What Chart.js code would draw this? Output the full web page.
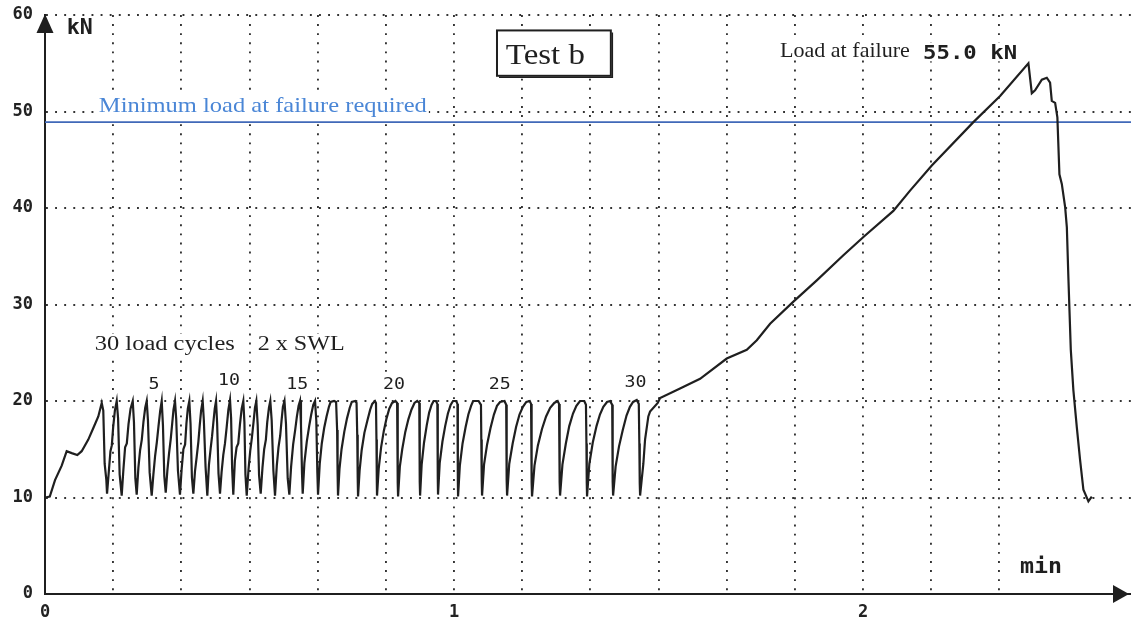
<!DOCTYPE html>
<html>
<head>
<meta charset="utf-8">
<title>Test b - load cycles and load at failure</title>
<script src="https://cdn.jsdelivr.net/npm/chart.js@4.4.1/dist/chart.umd.min.js"></script>
<style>
  html, body { margin: 0; padding: 0; background: #fff; overflow: hidden; }
  canvas { display: block; }
</style>
</head>
<body>
<canvas id="loadChart" width="1131" height="622"></canvas>
<script>
// ---- DATA: time in seconds, load in kN ----

// initial loading up to the first 2 x SWL peak
const rampIn = [
  [0, 10.0], [0.7, 10.1], [1.47, 11.8], [2.45, 13.3], [3.18, 14.8], [3.92, 14.6],
  [4.74, 14.4], [5.38, 14.8], [6.35, 16.0], [7.09, 17.2], [7.82, 18.4], [8.32, 19.8]
];

// 30 load cycles between ~10 kN and 20 kN (2 x SWL)
const loadCycles = [
  [8.55, 19.0], [8.75, 13.5], [9.0, 11.8], [9.10, 10.4],
  [9.35, 12.6], [9.6, 14.8], [9.8, 15.4], [10.0, 17.3], [10.25, 19.0], [10.52, 20.0],
  [10.72, 18.2], [10.95, 12.4], [11.25, 10.2],
  [11.5, 12.9], [11.75, 15.2], [12.0, 15.6], [12.25, 17.6], [12.55, 19.2], [12.87, 20.0],
  [13.05, 17.8], [13.25, 12.0], [13.45, 10.3],
  [13.7, 13.1], [13.95, 14.9], [14.2, 16.0], [14.45, 17.9], [14.7, 19.3], [14.92, 20.0],
  [15.1, 18.0], [15.35, 12.6], [15.65, 10.2],
  [15.9, 12.4], [16.15, 14.3], [16.4, 15.7], [16.65, 17.4], [16.9, 19.0], [17.12, 20.0],
  [17.3, 17.5], [17.5, 12.2], [17.71, 10.5],
  [17.95, 12.8], [18.2, 14.6], [18.45, 16.1], [18.65, 17.6], [18.85, 19.1], [19.07, 20.0],
  [19.25, 18.1], [19.5, 12.8], [19.8, 10.3],
  [20.05, 13.0], [20.3, 15.0], [20.55, 15.5], [20.75, 17.7], [20.95, 19.2], [21.17, 20.0],
  [21.35, 17.6], [21.55, 12.1], [21.76, 10.4],
  [22.0, 12.7], [22.25, 14.2], [22.5, 15.8], [22.7, 17.5], [22.9, 19.0], [23.13, 20.0],
  [23.3, 18.0], [23.55, 13.2], [23.81, 10.2],
  [24.05, 13.4], [24.3, 15.1], [24.5, 16.3], [24.7, 17.8], [24.9, 19.2], [25.09, 20.0],
  [25.25, 17.7], [25.45, 12.5], [25.67, 10.4],
  [25.9, 12.6], [26.15, 14.4], [26.4, 15.6], [26.65, 17.3], [26.9, 19.1], [27.14, 20.1],
  [27.3, 18.2], [27.45, 13.0], [27.62, 10.3],
  [27.85, 13.8], [28.1, 15.2], [28.35, 15.6], [28.6, 17.6], [28.85, 19.2], [29.09, 20.0],
  [29.25, 17.8], [29.4, 12.4], [29.59, 10.2],
  [29.85, 12.9], [30.1, 14.8], [30.35, 16.2], [30.6, 17.9], [30.8, 19.3], [31.0, 20.0],
  [31.2, 17.5], [31.4, 12.3], [31.64, 10.4],
  [31.9, 13.1], [32.15, 15.0], [32.4, 16.0], [32.6, 17.8], [32.85, 19.3], [33.05, 20.0],
  [33.25, 18.0], [33.5, 12.8], [33.74, 10.2],
  [34.0, 13.3], [34.25, 15.2], [34.5, 16.4], [34.7, 18.0], [34.9, 19.4], [35.13, 20.0],
  [35.35, 17.6], [35.6, 12.0], [35.84, 10.3],
  [36.1, 13.2], [36.4, 15.5], [36.7, 17.0], [36.95, 18.4], [37.2, 19.5], [37.41, 20.0],
  [37.55, 17.5], [37.7, 12.5], [37.8, 10.4],
  [38.05, 13.6], [38.4, 15.8], [38.75, 17.4], [39.05, 18.6], [39.35, 19.6], [39.61, 20.0],
  [39.8, 17.9], [39.95, 12.6], [40.05, 10.3],
  [40.3, 13.5], [40.6, 15.6], [40.95, 17.2], [41.3, 18.4], [41.65, 19.4], [41.9, 19.9], [42.4, 20.0], [42.7, 19.9],
  [42.85, 17.0], [42.92, 12.5], [42.98, 10.2],
  [43.2, 13.0], [43.5, 15.0], [43.9, 16.8], [44.3, 18.2], [44.7, 19.3], [45.0, 19.9], [45.5, 20.0], [45.7, 19.8],
  [45.8, 16.5], [45.87, 12.0], [45.92, 10.1],
  [46.15, 12.8], [46.45, 14.9], [46.85, 16.7], [47.3, 18.0], [47.7, 19.1], [48.0, 19.7], [48.4, 20.0], [48.55, 19.8],
  [48.62, 16.0], [48.67, 11.8], [48.70, 10.2],
  [48.95, 13.0], [49.3, 15.2], [49.7, 16.9], [50.1, 18.2], [50.5, 19.2], [50.9, 19.8], [51.4, 20.0], [51.65, 19.8],
  [51.72, 16.2], [51.76, 11.5], [51.79, 10.1],
  [52.05, 13.2], [52.4, 15.0], [52.85, 16.8], [53.3, 18.1], [53.75, 19.1], [54.2, 19.8], [54.6, 20.0], [54.9, 19.8],
  [54.95, 15.8], [54.99, 11.6], [55.02, 10.2],
  [55.25, 13.4], [55.6, 15.7], [56.0, 17.5], [56.35, 18.8], [56.7, 19.6], [57.0, 20.0], [57.35, 20.0], [57.55, 19.7],
  [57.6, 16.0], [57.63, 12.0], [57.65, 10.3],
  [57.9, 13.6], [58.3, 15.8], [58.7, 17.4], [59.1, 18.7], [59.5, 19.6], [59.85, 20.0], [60.3, 20.0], [60.5, 19.7],
  [60.55, 15.5], [60.57, 11.7], [60.59, 10.1],
  [60.85, 13.3], [61.25, 15.6], [61.7, 17.3], [62.1, 18.6], [62.5, 19.5], [62.8, 20.0], [63.6, 20.0], [63.95, 19.6],
  [64.0, 16.0], [64.06, 11.8], [64.11, 10.2],
  [64.4, 13.4], [64.85, 15.5], [65.35, 17.2], [65.85, 18.6], [66.3, 19.5], [66.75, 19.9], [67.4, 20.0], [67.65, 19.6],
  [67.7, 15.6], [67.74, 11.8], [67.78, 10.2],
  [68.1, 13.5], [68.6, 15.6], [69.1, 17.3], [69.6, 18.6], [70.1, 19.4], [70.6, 19.9], [71.1, 20.0], [71.3, 19.7],
  [71.36, 15.8], [71.4, 11.6], [71.44, 10.1],
  [71.8, 13.3], [72.3, 15.4], [72.9, 17.1], [73.5, 18.4], [74.1, 19.3], [74.7, 19.8], [75.2, 20.0], [75.4, 19.7],
  [75.47, 15.7], [75.51, 11.6], [75.55, 10.2],
  [75.9, 13.4], [76.4, 15.6], [76.9, 17.4], [77.45, 18.7], [77.95, 19.5], [78.48, 20.0], [79.1, 20.0], [79.35, 19.6],
  [79.42, 15.6], [79.47, 11.5], [79.51, 10.1],
  [79.85, 13.5], [80.35, 15.7], [80.9, 17.4], [81.4, 18.6], [81.9, 19.4], [82.44, 19.9], [82.9, 20.0], [83.2, 19.6],
  [83.25, 15.5], [83.29, 11.6], [83.33, 10.2],
  [83.7, 13.2], [84.2, 15.3], [84.75, 17.0], [85.3, 18.5], [85.8, 19.4], [86.26, 19.9], [86.8, 20.1], [87.1, 19.7],
  [87.18, 15.6], [87.24, 11.5], [87.29, 10.2]
];

// pull to failure
const failureRun = [
  [87.55, 12.0], [87.77, 13.5], [88.02, 16.0], [88.5, 18.4], [88.75, 18.9], [89.88, 19.8],
  [90.22, 20.3], [93.15, 21.3], [96.09, 22.3], [100.0, 24.4], [102.94, 25.3], [104.41, 26.3],
  [106.36, 28.0], [109.78, 30.3], [113.21, 32.5], [117.11, 35.1], [120.05, 37.0], [124.44, 39.7],
  [126.89, 41.8], [130.08, 44.4], [136.18, 48.9], [140.10, 51.6], [144.25, 55.0], [144.75, 51.9],
  [145.23, 52.2], [146.22, 53.3], [146.95, 53.5], [147.43, 53.0], [147.68, 51.1], [148.17, 50.9],
  [148.50, 49.4], [148.80, 43.5], [149.15, 42.5], [149.64, 40.1], [149.89, 38.0], [150.12, 32.7],
  [150.47, 25.3], [150.85, 21.1], [151.35, 17.3], [151.83, 13.9], [152.32, 10.8], [153.05, 9.6],
  [153.55, 10.1]
];

const minLoadKN = 48.9;                 // required minimum load at failure
const cycleLabels = ['5', '10', '15', '20', '25', '30'];
const cycleLabelSec = [16.0, 27.0, 37.0, 51.2, 66.7, 86.6];
const cycleLabelKN = [21.2, 21.7, 21.2, 21.2, 21.2, 21.5];

const X_MAX_SEC = 159.3;                // right edge of the plot (about 2.65 min)
const Y_MAX_KN = 60;

// ---- styles ----
const INK = '#1f1f1f';
const GRID = '#333';
const MONO = '"DejaVu Sans Mono", "Liberation Mono", monospace';
const SERIF = '"Liberation Serif", "DejaVu Serif", serif';

// draws a string stretched to a given pixel width, on a white patch
function stretchText(ctx, str, left, base, width, font, color, center) {
  ctx.save();
  ctx.font = font;
  const m = ctx.measureText(str);
  const sx = width ? width / m.width : 1;
  const w = m.width * sx;
  const x0 = center ? left - w / 2 : left;
  ctx.fillStyle = '#fff';
  ctx.fillRect(x0 - 2, base - m.actualBoundingBoxAscent - 2, w + 4, m.actualBoundingBoxAscent + m.actualBoundingBoxDescent + 4);
  ctx.translate(x0, base);
  ctx.scale(sx, 1);
  ctx.fillStyle = color;
  ctx.textBaseline = 'alphabetic';
  ctx.textAlign = 'left';
  ctx.fillText(str, 0, 0);
  ctx.restore();
}

const allLoad = [...rampIn, ...loadCycles, ...failureRun];
const failureKN = Math.max(...allLoad.map(p => p[1]));

const annotate = {
  id: 'annotate',
  beforeDatasetsDraw(chart) {
    const { ctx, scales: { x, y } } = chart;
    const px = s => x.getPixelForValue(s);
    const py = v => y.getPixelForValue(v);

    // "Test b" box
    const bx = px(66.3), by = py(58.4), bw = px(83.0) - bx, bh = py(53.7) - by;
    ctx.save();
    ctx.fillStyle = '#fff';
    ctx.fillRect(bx, by, bw, bh);
    ctx.strokeStyle = INK;
    ctx.lineWidth = 2;
    ctx.strokeRect(bx, by, bw, bh);
    ctx.lineWidth = 1.5;
    ctx.beginPath();
    ctx.moveTo(bx + bw + 1.5, by + 2);
    ctx.lineTo(bx + bw + 1.5, by + bh + 1.5);
    ctx.lineTo(bx + 2, by + bh + 1.5);
    ctx.stroke();
    ctx.restore();
    stretchText(ctx, 'Test b', px(67.6), py(54.95), 79, '30px ' + SERIF, INK);

    stretchText(ctx, 'Minimum load at failure required', px(7.9), py(49.9), 328, '21px ' + SERIF, '#4a86d6');
    stretchText(ctx, 'Load at failure', px(107.8), py(55.6), 130, '21px ' + SERIF, INK);
    stretchText(ctx, failureKN.toFixed(1) + ' kN', px(128.8), py(55.4), 94, 'bold 20px ' + MONO, INK);
    stretchText(ctx, '30 load cycles', px(7.3), py(25.3), 140, '20px ' + SERIF, INK);
    stretchText(ctx, '2 x SWL', px(31.2), py(25.3), 87, '20px ' + SERIF, INK);
    stretchText(ctx, 'kN', px(3.2), py(58.0), 26, 'bold 21px ' + MONO, INK);
    stretchText(ctx, 'min', px(143.0), py(2.2), 42, 'bold 21px ' + MONO, INK);

    cycleLabels.forEach((lab, i) => {
      stretchText(ctx, lab, px(cycleLabelSec[i]), py(cycleLabelKN[i]), lab.length * 11, '16px ' + MONO, INK, true);
    });
  },
  afterDraw(chart) {
    const { ctx, chartArea: a } = chart;
    ctx.save();
    ctx.fillStyle = INK;
    // arrow on the load axis
    ctx.beginPath();
    ctx.moveTo(a.left, a.top - 1);
    ctx.lineTo(a.left - 8.5, a.top + 18);
    ctx.lineTo(a.left + 8.5, a.top + 18);
    ctx.closePath();
    ctx.fill();
    // arrow on the time axis
    ctx.beginPath();
    ctx.moveTo(a.right - 2, a.bottom);
    ctx.lineTo(a.right - 18, a.bottom - 9);
    ctx.lineTo(a.right - 18, a.bottom + 9);
    ctx.closePath();
    ctx.fill();
    ctx.restore();
  }
};

const dotted = (c) => (c.tick && c.tick.value > 0 && c.tick.value % 10 === 0) ? GRID : 'rgba(0,0,0,0)';

new Chart(document.getElementById('loadChart').getContext('2d'), {
  type: 'line',
  data: {
    datasets: [
      {
        label: 'Load',
        data: allLoad.map(([s, kN]) => ({ x: s, y: kN })),
        borderColor: INK,
        borderWidth: 2.2,
        pointRadius: 0,
        tension: 0
      },
      {
        label: 'Minimum load at failure required',
        data: [{ x: 0, y: minLoadKN }, { x: X_MAX_SEC, y: minLoadKN }],
        borderColor: '#4169b8',
        borderWidth: 1.8,
        pointRadius: 0
      }
    ]
  },
  options: {
    responsive: false,
    animation: false,
    layout: { padding: { top: 15, right: 0, bottom: 0, left: 0 } },
    plugins: { legend: { display: false }, tooltip: { enabled: false } },
    scales: {
      x: {
        type: 'linear',
        min: 0,
        max: X_MAX_SEC,
        afterFit(s) { s.height = 28; s.paddingLeft = 0; s.paddingRight = 0; },
        ticks: {
          stepSize: 10,
          autoSkip: false,
          maxRotation: 0,
          padding: 8,
          color: '#222',
          font: { family: MONO, size: 17, weight: 'bold' },
          callback: v => (v % 60 === 0 ? String(v / 60) : '')
        },
        grid: { color: dotted, lineWidth: 1.9, drawTicks: false },
        border: { display: true, color: INK, width: 2, dash: [1.9, 7.2] }
      },
      y: {
        min: 0,
        max: Y_MAX_KN,
        afterFit(s) { s.width = 45; s.paddingTop = 0; s.paddingBottom = 0; },
        ticks: {
          stepSize: 10,
          padding: 12,
          color: '#222',
          font: { family: MONO, size: 17, weight: 'bold' }
        },
        grid: { color: dotted, lineWidth: 1.9, drawTicks: false },
        border: { display: true, color: INK, width: 2, dash: [1.9, 7.2] }
      }
    }
  },
  plugins: [annotate]
});
</script>
</body>
</html>
